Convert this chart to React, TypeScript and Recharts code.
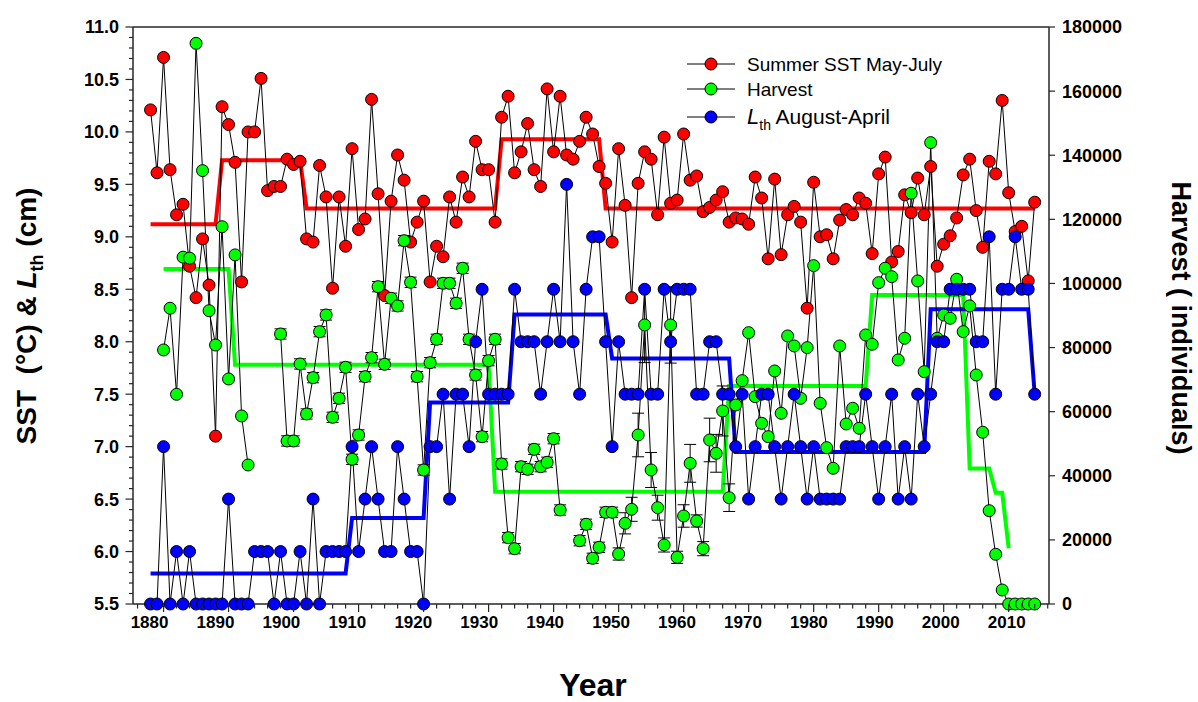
import { ComposedChart, Line, XAxis, YAxis, ErrorBar } from "recharts";

const FONT = '"Liberation Sans", Arial, Helvetica, sans-serif';
const AXIS = "#262626";
const RED = "#ff0000";
const GREEN = "#00ff00";
const BLUE = "#0000ff";

const firstYear = 1878;

// Summer SST, May-July (°C), 1878-2014
const sstMayJuly = [
  10.21, 9.61, 10.71, 9.64, 9.21, 9.31, 8.72, 8.42, 8.98, 8.54,
  7.1, 10.24, 10.07, 9.71, 8.57, 10.0, 10.0, 10.51, 9.44, 9.48,
  9.48, 9.74, 9.69, 9.72, 8.98, 8.95, 9.68, 9.38, 8.51, 9.38,
  8.91, 9.84, 9.07, 9.17, 10.31, 9.41, 8.44, 9.34, 9.78, 9.54,
  8.95, 9.14, 9.34, 8.57, 8.91, 8.81, 9.38, 9.14, 9.57, 9.38,
  9.91, 9.64, 9.64, 9.14, 10.14, 10.34, 9.61, 9.81, 10.08, 9.64,
  9.48, 10.41, 9.81, 10.34, 9.78, 9.74, 9.91, 10.14, 9.98, 9.67,
  9.51, 8.95, 9.84, 9.3, 8.42, 9.51, 9.81, 9.74, 9.21, 9.95,
  9.32, 9.35, 9.98, 9.54, 9.58, 9.24, 9.28, 9.35, 9.43, 9.14,
  9.18, 9.17, 9.12, 9.57, 9.37, 8.79, 9.55, 8.83, 9.21, 9.29,
  9.14, 8.32, 9.52, 9.0, 9.02, 8.79, 9.16, 9.26, 9.21, 9.37,
  9.32, 8.84, 9.6, 9.76, 8.76, 8.86, 9.4, 9.23, 9.56, 9.21,
  9.67, 8.72, 8.93, 9.01, 9.18, 9.59, 9.74, 9.25, 8.9, 9.72,
  9.6, 10.3, 9.42, 9.05, 9.1, 8.58, 9.33,
];

// Lth, August-April (cm)
const lthAugApril = [
  5.5, 5.5, 7.0, 5.5, 6.0, 5.5, 6.0, 5.5, 5.5, 5.5,
  5.5, 5.5, 6.5, 5.5, 5.5, 5.5, 6.0, 6.0, 6.0, 5.5,
  6.0, 5.5, 5.5, 6.0, 5.5, 6.5, 5.5, 6.0, 6.0, 6.0,
  6.0, 7.0, 6.0, 6.5, 7.0, 6.5, 6.0, 6.0, 7.0, 6.5,
  6.0, 6.0, 5.5, 7.0, 7.0, 7.5, 6.5, 7.5, 7.5, 7.0,
  8.0, 8.5, 7.5, 7.5, 7.5, 7.5, 8.5, 8.0, 8.0, 8.0,
  7.5, 8.0, 8.5, 8.0, 9.5, 8.0, 7.5, 8.5, 9.0, 9.0,
  8.0, 7.0, 8.0, 7.5, 7.5, 7.5, 8.5, 7.5, 7.5, 8.5,
  8.0, 8.5, 8.5, 8.5, 7.5, 7.5, 8.0, 8.0, 7.5, 7.5,
  7.0, 7.5, 6.5, 7.0, 7.5, 7.5, 7.0, 6.5, 7.0, 7.5,
  7.0, 6.5, 7.0, 6.5, 6.5, 6.5, 6.5, 7.0, 7.0, 7.0,
  7.5, 7.0, 6.5, 7.0, 7.5, 6.5, 7.0, 6.5, 7.5, 7.0,
  7.5, 8.0, 8.0, 8.5, 8.5, 8.5, 8.5, 8.0, 8.0, 9.0,
  7.5, 8.5, 8.5, 9.0, 8.5, 8.5, 7.5,
];

// Harvest (individuals); null = no record
const harvestCount = [
  null, null, 79250, 92260, 65420, 108200, 107900, 174900, 135200, 91500,
  80800, 117700, 70200, 108900, 58660, 43370, null, null, null, null,
  84240, 50860, 50860, 74880, 59280, 70610, 84960, 90170, 58250, 64170,
  73840, 45140, 52730, 70920, 76850, 99000, 74780, 95380, 92980, 113350,
  100370, 70920, 41810, 75290, 82580, 100050, 100050, 93820, 104740, 82580,
  71450, 52200, 75910, 82580, 43680, 20690, 17250, 42840, 42020, 48260,
  42840, 44210, 51570, 29330, null, null, 19750, 24870, 14260, 17690,
  28610, 28610, 15600, 25170, 29540, 52730, 87050, 41810, 30050, 18410,
  87050, 14560, 27460, 43890, 25900, 17260, 51170, 47010, 60220, 33170,
  62090, 69680, 84650, 64680, 56370, 52200, 72700, 59500, 83620, 80500,
  64170, 79970, 105550, 62620, 48770, 42340, 80500, 56160, 61060, 54820,
  83930, 81030, 100250, 104740, 102120, 76130, 82900, 128140, 100780, 72480,
  143930, 82900, 90170, 89140, 101300, 84960, 93000, 71450, 53570, 29110,
  15510, 4370, 0, 0, 0, 0, 0,
];

// harvest error (± individuals), 1898-1967
const harvestErrStart = 1898;
const harvestErr = [
  1600, 1600, 1600, 1600, 1600, 1600, 1600, 1600, 1600, 1600,
  1600, 1600, 1600, 1600, 1600, 1600, 1600, 1600, 1600, 1600,
  1600, 1600, 1600, 1600, 1600, 1600, 1600, 1600, 1600, 1600,
  1600, 1600, 1600, 1600, 1600, 1600, 1600, 1600, 1600, 1600,
  1600, 1600, 1600, 1600, null, null, 1600, 1600, 1600, 1600,
  1600, 1600, 1900, 3300, 3750, 6800, 11750, 5460, 3900, 2200,
  11900, 1900, 3500, 5900, 1900, 2200, 6800, 5900, 7800, 4300,
];

// regime means
const sstRegimes = [
  { from: 1878, to: 1888, mean: 9.12 },
  { from: 1889, to: 1901, mean: 9.73 },
  { from: 1902, to: 1931, mean: 9.27 },
  { from: 1932, to: 1947, mean: 9.93 },
  { from: 1948, to: 2014, mean: 9.27 },
];
const lthRegimes = [
  { from: 1878, to: 1908, mean: 5.79 },
  { from: 1909, to: 1920, mean: 6.32 },
  { from: 1921, to: 1933, mean: 7.42 },
  { from: 1934, to: 1948, mean: 8.26 },
  { from: 1949, to: 1967, mean: 7.84 },
  { from: 1968, to: 1997, mean: 6.95 },
  { from: 1998, to: 2013, mean: 8.31 },
  { from: 2014, to: 2014, mean: 7.5 },
];
const harvestRegimes = [
  { from: 1880, to: 1890, mean: 104500 },
  { from: 1891, to: 1930, mean: 74600 },
  { from: 1931, to: 1966, mean: 35000 },
  { from: 1967, to: 1988, mean: 68000 },
  { from: 1989, to: 2003, mean: 96400 },
  { from: 2004, to: 2007, mean: 42300 },
  { from: 2008, to: 2009, mean: 34700 },
  { from: 2010, to: 2010, mean: 17400 },
];

const harvestTicks = [0, 20000, 40000, 60000, 80000, 100000, 120000, 140000, 160000, 180000];

type Regime = { from: number; to: number; mean: number };
const regimeMean = (regimes: Regime[], year: number) =>
  regimes.find((r) => year >= r.from && year <= r.to)?.mean ?? null;

const data = sstMayJuly.map((sst, i) => {
  const year = firstYear + i;
  const e = harvestErr[year - harvestErrStart];
  return {
    year,
    sst,
    lth: lthAugApril[i],
    harvest: harvestCount[i],
    harvestErr: e == null ? undefined : e,
    sstMean: regimeMean(sstRegimes, year),
    lthMean: regimeMean(lthRegimes, year),
    harvestMean: regimeMean(harvestRegimes, year),
  };
});

// minor ticks every 2 years, every 0.1 °C
const yearTicks: number[] = [];
for (let y = 1876; y <= 2016; y += 2) yearTicks.push(y);
const sstTicks: number[] = [];
for (let k = 55; k <= 110; k++) sstTicks.push(k / 10);

const X_DOMAIN = [1875.3, 2016.2];

// decade labels are spread a little wider than the ticks (65.9 px per decade, ending at 2010)
const labelShift = (year: number) => -14 + (12 * (year - 1880)) / 130;

const BottomTick = (props: any) => {
  const { x, y, payload } = props;
  const major = payload.value % 10 === 0;
  return (
    <g>
      <line x1={x} x2={x} y1={y} y2={y + (major ? 8 : 4.5)} stroke={AXIS} strokeWidth={1.2} />
      {major && (
        <text
          x={x + labelShift(payload.value)}
          y={y + 24}
          textAnchor="middle"
          fontFamily={FONT}
          fontWeight="bold"
          fontSize={17}
          fill="#000"
        >
          {payload.value}
        </text>
      )}
    </g>
  );
};

const TopTick = (props: any) => {
  const { x, y, payload } = props;
  const major = payload.value % 10 === 0;
  return <line x1={x} x2={x} y1={y} y2={y + (major ? 8 : 4.5)} stroke={AXIS} strokeWidth={1.2} />;
};

const SstTick = (props: any) => {
  const { x, y, payload } = props;
  const major = Math.round(payload.value * 10) % 5 === 0;
  return (
    <g>
      <line x1={x - (major ? 7.5 : 4)} x2={x} y1={y} y2={y} stroke={AXIS} strokeWidth={1.2} />
      {major && (
        <text x={x - 14} y={y} dy="0.36em" textAnchor="end" fontFamily={FONT} fontWeight="bold" fontSize={18} fill="#000">
          {payload.value.toFixed(1)}
        </text>
      )}
    </g>
  );
};

const HarvestTick = (props: any) => {
  const { x, y, payload } = props;
  return (
    <g>
      <line x1={x} x2={x + 6} y1={y} y2={y} stroke={AXIS} strokeWidth={1.2} />
      <text x={x + 13} y={y} dy="0.36em" textAnchor="start" fontFamily={FONT} fontWeight="bold" fontSize={18} fill="#000">
        {payload.value}
      </text>
    </g>
  );
};

const dotStyle = (fill: string) => ({ r: 6, fill, stroke: "#000", strokeWidth: 1 });

const LegendRow = ({ y, color, children }: { y: number; color: string; children: any }) => (
  <g>
    <line x1={687} x2={735} y1={y} y2={y} stroke="#000" strokeWidth={1} />
    <circle cx={711} cy={y} r={6} fill={color} stroke="#000" strokeWidth={1} />
    <text x={747} y={y} dy="0.36em" fontFamily={FONT} fontSize={19} fill="#000">
      {children}
    </text>
  </g>
);

export default function App() {
  return (
    <div style={{ position: "absolute", left: 0, top: 0, width: 1198, height: 702, background: "#fff" }}>
      <ComposedChart width={1198} height={702} data={data} margin={{ top: 26, right: 0, bottom: 0, left: 0 }}>
        <XAxis
          dataKey="year"
          type="number"
          domain={X_DOMAIN}
          ticks={yearTicks}
          interval={0}
          height={98}
          tickSize={0}
          tickMargin={0}
          tickLine={false}
          axisLine={{ stroke: AXIS, strokeWidth: 1.5 }}
          tick={<BottomTick />}
        />
        <XAxis
          xAxisId="top"
          orientation="top"
          type="number"
          domain={X_DOMAIN}
          ticks={yearTicks}
          interval={0}
          height={1}
          tickSize={0}
          tickMargin={0}
          tickLine={false}
          axisLine={{ stroke: AXIS, strokeWidth: 1.5 }}
          tick={<TopTick />}
        />
        <YAxis
          yAxisId="sst"
          type="number"
          domain={[5.5, 11]}
          ticks={sstTicks}
          interval={0}
          width={133}
          tickSize={0}
          tickMargin={0}
          tickLine={false}
          axisLine={{ stroke: AXIS, strokeWidth: 1.5 }}
          tick={<SstTick />}
        />
        <YAxis
          yAxisId="harvest"
          orientation="right"
          type="number"
          domain={[0, 180000]}
          ticks={harvestTicks}
          interval={0}
          width={149}
          tickSize={0}
          tickMargin={0}
          tickLine={false}
          axisLine={{ stroke: AXIS, strokeWidth: 1.5 }}
          tick={<HarvestTick />}
        />

        <Line yAxisId="sst" dataKey="sstMean" stroke={RED} strokeWidth={4} dot={false} isAnimationActive={false} />
        <Line yAxisId="harvest" dataKey="harvestMean" stroke={GREEN} strokeWidth={4} dot={false} isAnimationActive={false} />
        <Line yAxisId="sst" dataKey="lthMean" stroke={BLUE} strokeWidth={4} dot={false} isAnimationActive={false} />

        <Line yAxisId="sst" dataKey="sst" stroke="#000" strokeWidth={1} dot={dotStyle(RED)} isAnimationActive={false} />
        <Line
          yAxisId="harvest"
          dataKey="harvest"
          stroke="#000"
          strokeWidth={1}
          dot={dotStyle(GREEN)}
          connectNulls={false}
          isAnimationActive={false}
        >
          <ErrorBar dataKey="harvestErr" direction="y" width={6} stroke="#000" strokeWidth={1} />
        </Line>
        <Line yAxisId="sst" dataKey="lth" stroke="#000" strokeWidth={1} dot={dotStyle(BLUE)} isAnimationActive={false} />
      </ComposedChart>

      <svg width={1198} height={702} style={{ position: "absolute", left: 0, top: 0, pointerEvents: "none" }}>
        <text
          transform="translate(36,316) rotate(-90)"
          textAnchor="middle"
          fontFamily={FONT}
          fontWeight="bold"
          fontSize={28}
          fill="#000"
          style={{ whiteSpace: "pre" }}
        >
          {"SST  (°C) & "}
          <tspan fontStyle="italic">L</tspan>
          <tspan fontSize={18} dy={7}>th</tspan>
          <tspan dy={-7}>{" (cm)"}</tspan>
        </text>
        <text
          transform="translate(1172,318) rotate(90)"
          textAnchor="middle"
          fontFamily={FONT}
          fontWeight="bold"
          fontSize={27}
          fill="#000"
          style={{ whiteSpace: "pre" }}
        >
          Harvest ( individuals)
        </text>
        <text x={593} y={696} textAnchor="middle" fontFamily={FONT} fontWeight="bold" fontSize={32} fill="#000">
          Year
        </text>

        <LegendRow y={64} color={RED}>Summer SST May-July</LegendRow>
        <LegendRow y={89} color={GREEN}>Harvest</LegendRow>
        <LegendRow y={117} color={BLUE}>
          <tspan fontStyle="italic" fontSize={22}>L</tspan>
          <tspan fontSize={14} dy={6}>th</tspan>
          <tspan fontSize={21} dy={-6}>{" August-April"}</tspan>
        </LegendRow>
      </svg>
    </div>
  );
}
